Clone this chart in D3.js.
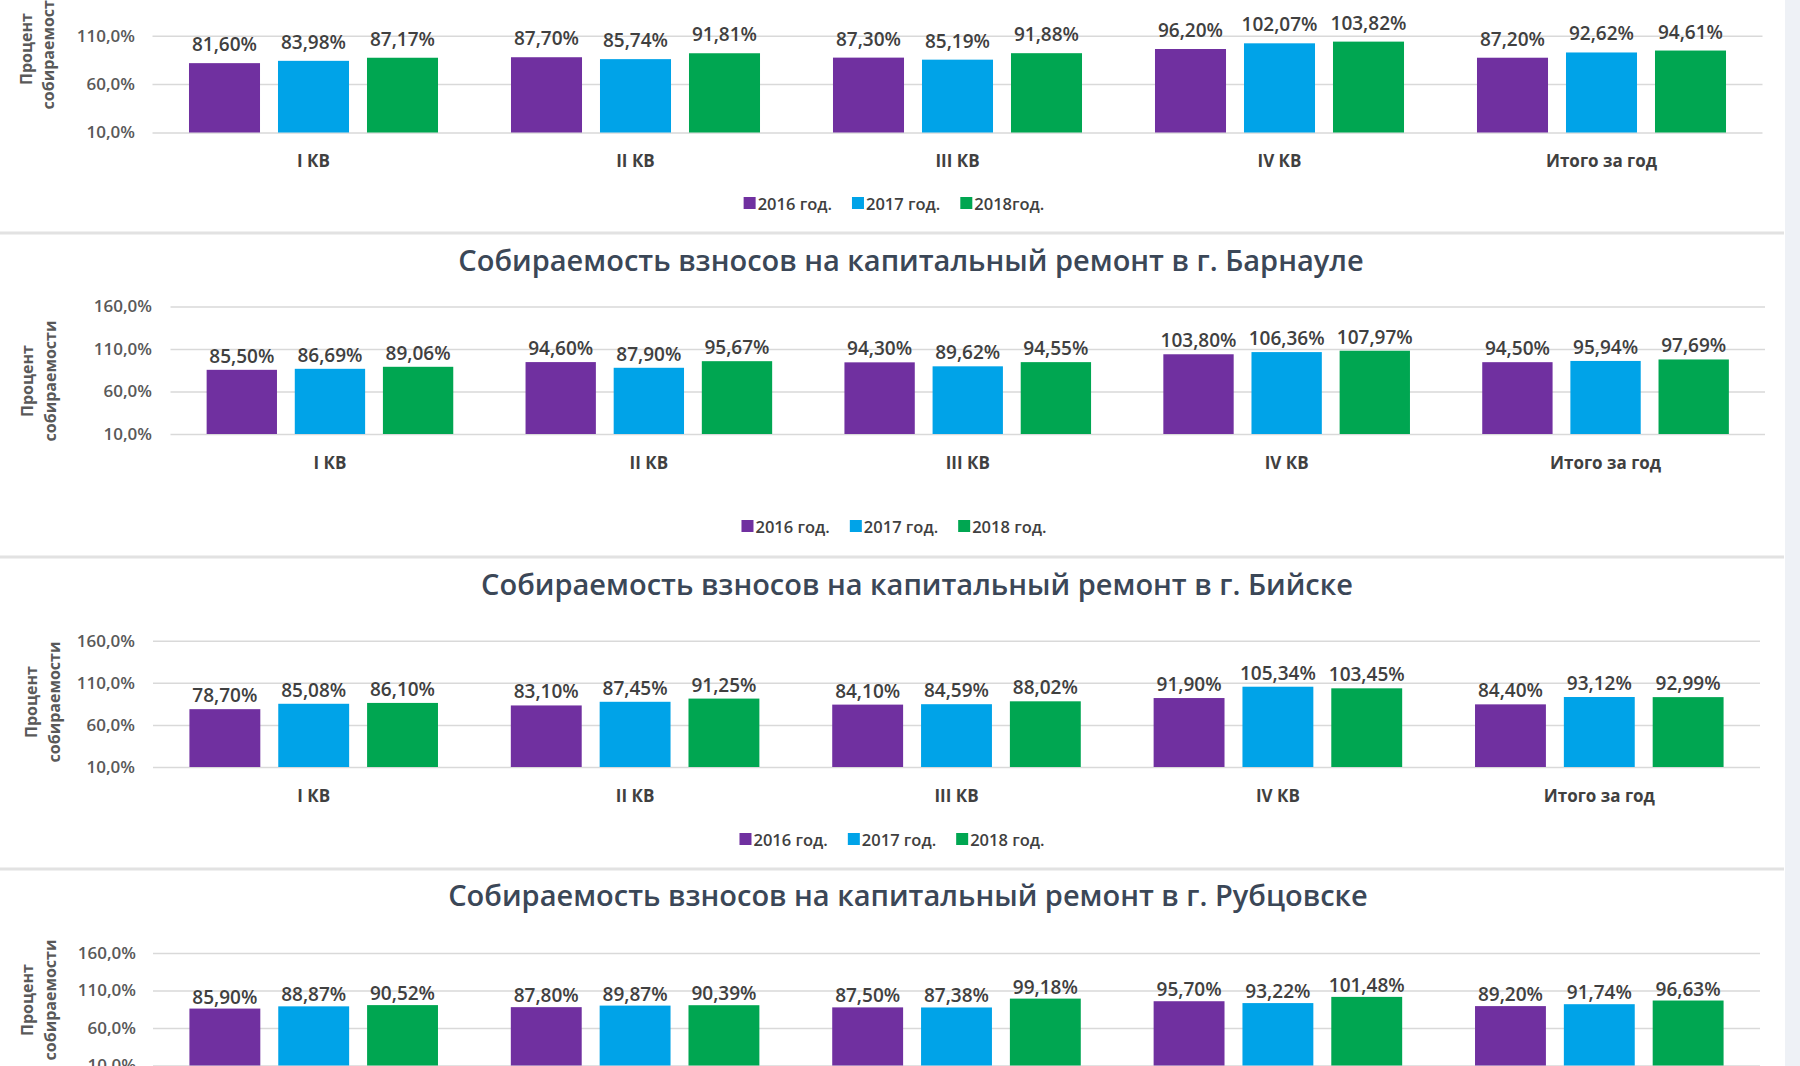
<!DOCTYPE html>
<html><head><meta charset="utf-8">
<script src="https://cdn.jsdelivr.net/npm/d3@7"></script>
<style>
body{margin:0;background:#fff;}
svg{display:block;font-family:"Open Sans",sans-serif;}
</style>
</head><body>
<svg id="c" width="1800" height="1066"></svg>
<script>
// ---------- DATA ----------
const categories = ["I КВ", "II КВ", "III КВ", "IV КВ", "Итого за год"];
const seriesKeys = ["y2016", "y2017", "y2018"];
const legendTop = ["2016 год.", "2017 год.", "2018год."];
const legendOther = ["2016 год.", "2017 год.", "2018 год."];
const tickValues = [10, 60, 110, 160];
const titles = [
  null,
  "Собираемость взносов на капитальный ремонт в г. Барнауле",
  "Собираемость взносов на капитальный ремонт в г. Бийске",
  "Собираемость взносов на капитальный ремонт в г. Рубцовске"
];
const axisTitle = ["Процент", "собираемости"];

// panel 1 (top, title cut off)
const p1_2016 = [81.60, 87.70, 87.30, 96.20, 87.20];
const p1_2017 = [83.98, 85.74, 85.19, 102.07, 92.62];
const p1_2018 = [87.17, 91.81, 91.88, 103.82, 94.61];
// Барнаул
const p2_2016 = [85.50, 94.60, 94.30, 103.80, 94.50];
const p2_2017 = [86.69, 87.90, 89.62, 106.36, 95.94];
const p2_2018 = [89.06, 95.67, 94.55, 107.97, 97.69];
// Бийск
const p3_2016 = [78.70, 83.10, 84.10, 91.90, 84.40];
const p3_2017 = [85.08, 87.45, 84.59, 105.34, 93.12];
const p3_2018 = [86.10, 91.25, 88.02, 103.45, 92.99];
// Рубцовск
const p4_2016 = [85.90, 87.80, 87.50, 95.70, 89.20];
const p4_2017 = [88.87, 89.87, 87.38, 93.22, 91.74];
const p4_2018 = [90.52, 90.39, 99.18, 101.48, 96.63];

const panelData = [
  [p1_2016, p1_2017, p1_2018],
  [p2_2016, p2_2017, p2_2018],
  [p3_2016, p3_2017, p3_2018],
  [p4_2016, p4_2017, p4_2018]
];

// ---------- LAYOUT / STYLE ----------
const W = 1800, H = 1066;
const colors = ["#7030A0", "#00A3E8", "#00A651"];
const layout = [
  {x0:152.5, x1:1762.5, yTop:-12.8, yBot:132.5, tickX:135, catY:160, legY:203, legX:894, titleY:null, titleX:0, axX:[26,48], axY:49, off:12},
  {x0:170.5, x1:1765, yTop:306.5, yBot:434, tickX:152, catY:462, legY:526, legX:894, titleY:259, titleX:911, axX:[27,50], axY:381, off:7},
  {x0:153, x1:1760, yTop:640.7, yBot:767, tickX:135, catY:795, legY:839, legX:892, titleY:583, titleX:917, axX:[31,54], axY:702, off:7},
  {x0:153, x1:1760, yTop:953, yBot:1065.5, tickX:136, catY:1093, legY:1137, legX:892, titleY:894, titleX:908, axX:[27,50], axY:1000, off:5}
];
const separators = [233, 557, 869];

const svg = d3.select("#c");
svg.append("rect").attr("width", W).attr("height", H).attr("fill", "#ffffff");
svg.append("rect").attr("x", 1785).attr("y", 0).attr("width", 15).attr("height", H).attr("fill", "#eef1f6");
svg.selectAll("rect.sep").data(separators).enter().append("rect")
  .attr("class", "sep").attr("x", 0).attr("width", 1784)
  .attr("y", d => d - 1.5).attr("height", 3).attr("fill", "#e2e2e2");

const fmt = v => d3.format(".2f")(v).replace(".", ",") + "%";
const tickFmt = v => d3.format(".1f")(v).replace(".", ",") + "%";

layout.forEach((L, pi) => {
  const g = svg.append("g");
  const data = panelData[pi];
  const x0 = d3.scaleBand().domain(categories).range([L.x0, L.x1]).paddingInner(0).paddingOuter(0);
  const x1 = d3.scaleBand().domain(seriesKeys).range([0, x0.bandwidth()]).paddingInner(0.202).paddingOuter(0.41);
  const y = d3.scaleLinear().domain([10, 160]).range([L.yBot, L.yTop]);

  // title
  if (L.titleY !== null) {
    g.append("text").attr("x", L.titleX).attr("y", L.titleY)
      .attr("text-anchor", "middle").attr("dominant-baseline", "central")
      .attr("font-size", 29).attr("font-weight", 600).attr("fill", "#3b4757")
      .text(titles[pi]);
  }

  // gridlines + tick labels via axis
  const ax = d3.axisLeft(y).tickValues(tickValues).tickFormat(tickFmt)
    .tickSize(-(L.x1 - L.x0)).tickPadding(L.x0 - L.tickX);
  const axg = g.append("g").attr("transform", `translate(${L.x0},0)`).call(ax);
  axg.select(".domain").remove();
  axg.selectAll(".tick line").attr("stroke", "#d9d9d9").attr("stroke-width", 1.5);
  axg.selectAll(".tick text").attr("font-size", 17).attr("font-weight", 600)
    .attr("fill", "#595959").attr("font-family", "'Open Sans',sans-serif");

  // axis title
  axisTitle.forEach((t, i) => {
    g.append("text")
      .attr("transform", `translate(${L.axX[i]},${L.axY}) rotate(-90)`)
      .attr("text-anchor", "middle").attr("dominant-baseline", "central")
      .attr("font-size", 16).attr("font-weight", 700).attr("fill", "#595959")
      .text(t);
  });

  // bars
  const groups = g.selectAll("g.grp").data(categories).enter().append("g")
    .attr("transform", c => `translate(${x0(c)},0)`);
  groups.each(function(c, ci) {
    const gg = d3.select(this);
    seriesKeys.forEach((k, si) => {
      const v = data[si][ci];
      gg.append("rect").attr("x", x1(k)).attr("y", y(v))
        .attr("width", x1.bandwidth()).attr("height", y(10) - y(v))
        .attr("fill", colors[si]);
      gg.append("text").attr("x", x1(k) + x1.bandwidth() / 2).attr("y", y(v) - L.off)
        .attr("text-anchor", "middle").attr("font-size", 19).attr("font-weight", 600)
        .attr("fill", "#404040").text(fmt(v));
    });
  });

  // category labels
  if (L.catY < H) {
    g.selectAll("text.cat").data(categories).enter().append("text")
      .attr("class", "cat").attr("x", c => x0(c) + x0.bandwidth() / 2).attr("y", L.catY)
      .attr("text-anchor", "middle").attr("dominant-baseline", "central")
      .attr("font-size", 17).attr("font-weight", 700).attr("fill", "#404040").text(c => c);
  }

  // legend
  if (L.legY < H) {
    const names = pi === 0 ? legendTop : legendOther;
    const lg = g.append("g");
    let cx = 0;
    names.forEach((n, i) => {
      const it = lg.append("g").attr("transform", `translate(${cx},0)`);
      it.append("rect").attr("x", 0).attr("y", -6).attr("width", 12).attr("height", 12).attr("fill", colors[i]);
      const t = it.append("text").attr("x", 14).attr("y", 0).attr("dominant-baseline", "central")
        .attr("font-size", 16.5).attr("font-weight", 600).attr("fill", "#404040").text(n);
      const w = t.node().getComputedTextLength();
      cx += 14 + w + 20;
    });
    const total = cx - 20;
    lg.attr("transform", `translate(${L.legX - total / 2},${L.legY})`);
  }
});
</script>
</body></html>
